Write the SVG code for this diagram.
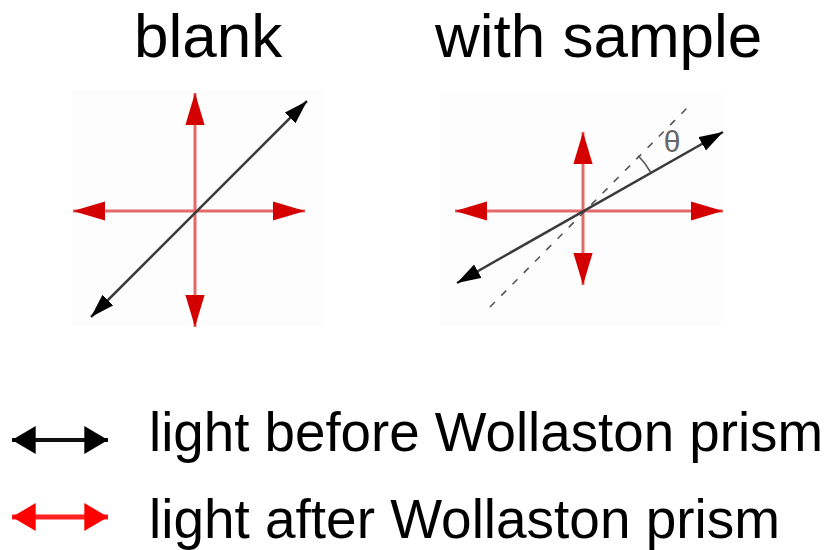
<svg xmlns="http://www.w3.org/2000/svg" width="835" height="550" viewBox="0 0 835 550">
  <style>
    .title { font-family: "Liberation Sans", Arial, sans-serif; font-size: 62px; fill: #000; }
    .legend { font-family: "Liberation Sans", Arial, sans-serif; font-size: 55px; fill: #000; }
    .red { stroke: #e46a6a; stroke-width: 3; fill: none; }
    .blk { stroke: #3a3a3a; stroke-width: 2.5; fill: none; }
    .dash { stroke: #555; stroke-width: 1.6; fill: none; stroke-dasharray: 7 9; }
    .panel { fill: #fdfdfd; }
  </style>
  <defs>
    <marker id="redHead" markerUnits="userSpaceOnUse" markerWidth="32" markerHeight="20" viewBox="0 0 30 18" refX="30" refY="9" orient="auto-start-reverse">
      <path d="M0,0 L30,9 L0,18 Z" fill="#d40000"/>
    </marker>
    <marker id="blkHead" markerUnits="userSpaceOnUse" markerWidth="24" markerHeight="16" viewBox="0 0 22 14" refX="22" refY="7" orient="auto-start-reverse">
      <path d="M0,0 L22,7 L0,14 Z" fill="#000"/>
    </marker>
    <marker id="legBlk" markerUnits="userSpaceOnUse" markerWidth="24" markerHeight="28" viewBox="0 0 22 26" refX="22" refY="13" orient="auto-start-reverse">
      <path d="M0,0 L22,13 L0,26 Z" fill="#000"/>
    </marker>
    <marker id="legRed" markerUnits="userSpaceOnUse" markerWidth="24" markerHeight="28" viewBox="0 0 22 26" refX="22" refY="13" orient="auto-start-reverse">
      <path d="M0,0 L22,13 L0,26 Z" fill="#ff0000"/>
    </marker>
  </defs>

  <rect width="835" height="550" fill="#fff"/>

  <g id="title-blank"><text class="title" x="134" y="57">blank</text></g>
  <g id="title-sample"><text class="title" x="435" y="57">with sample</text></g>

  <g id="panel-blank">
    <rect class="panel" x="72" y="90" width="250" height="236"/>
  </g>
  <g id="panel-sample">
    <rect class="panel" x="440" y="92" width="284" height="234"/>
  </g>

  <g id="connectors">
    <!-- blank panel -->
    <line class="red" x1="195" y1="211" x2="195" y2="93" marker-end="url(#redHead)"/>
    <line class="red" x1="195" y1="211" x2="195" y2="327" marker-end="url(#redHead)"/>
    <line class="red" x1="195" y1="211" x2="73" y2="211" marker-end="url(#redHead)"/>
    <line class="red" x1="195" y1="211" x2="305" y2="211" marker-end="url(#redHead)"/>
    <line class="blk" x1="91" y1="317" x2="307" y2="101" marker-start="url(#blkHead)" marker-end="url(#blkHead)"/>

    <!-- sample panel -->
    <line class="red" x1="583" y1="211" x2="583" y2="132" marker-end="url(#redHead)"/>
    <line class="red" x1="583" y1="211" x2="583" y2="285" marker-end="url(#redHead)"/>
    <line class="red" x1="583" y1="211" x2="455" y2="211" marker-end="url(#redHead)"/>
    <line class="red" x1="583" y1="211" x2="723" y2="211" marker-end="url(#redHead)"/>
    <line class="dash" x1="490" y1="307" x2="687" y2="108"/>
    <line class="blk" x1="457" y1="283" x2="723" y2="132" marker-start="url(#blkHead)" marker-end="url(#blkHead)"/>
    <path d="M638.2,155.8 A78,78 0 0 1 650.8,172.5" stroke="#555" stroke-width="1.6" fill="none"/>

    <!-- legend arrows -->
    <line x1="12" y1="440" x2="108" y2="440" stroke="#111" stroke-width="4" marker-start="url(#legBlk)" marker-end="url(#legBlk)"/>
    <line x1="12" y1="517" x2="108" y2="517" stroke="#ff2020" stroke-width="5" marker-start="url(#legRed)" marker-end="url(#legRed)"/>
  </g>

  <g id="theta"><text x="672" y="152" font-family="Liberation Sans, Arial, sans-serif" font-size="30" fill="#666" text-anchor="middle">θ</text></g>

  <g id="legend-before"><text class="legend" x="149" y="451" textLength="674" lengthAdjust="spacingAndGlyphs">light before Wollaston prism</text></g>
  <g id="legend-after"><text class="legend" x="149" y="538" textLength="631" lengthAdjust="spacingAndGlyphs">light after Wollaston prism</text></g>
</svg>
